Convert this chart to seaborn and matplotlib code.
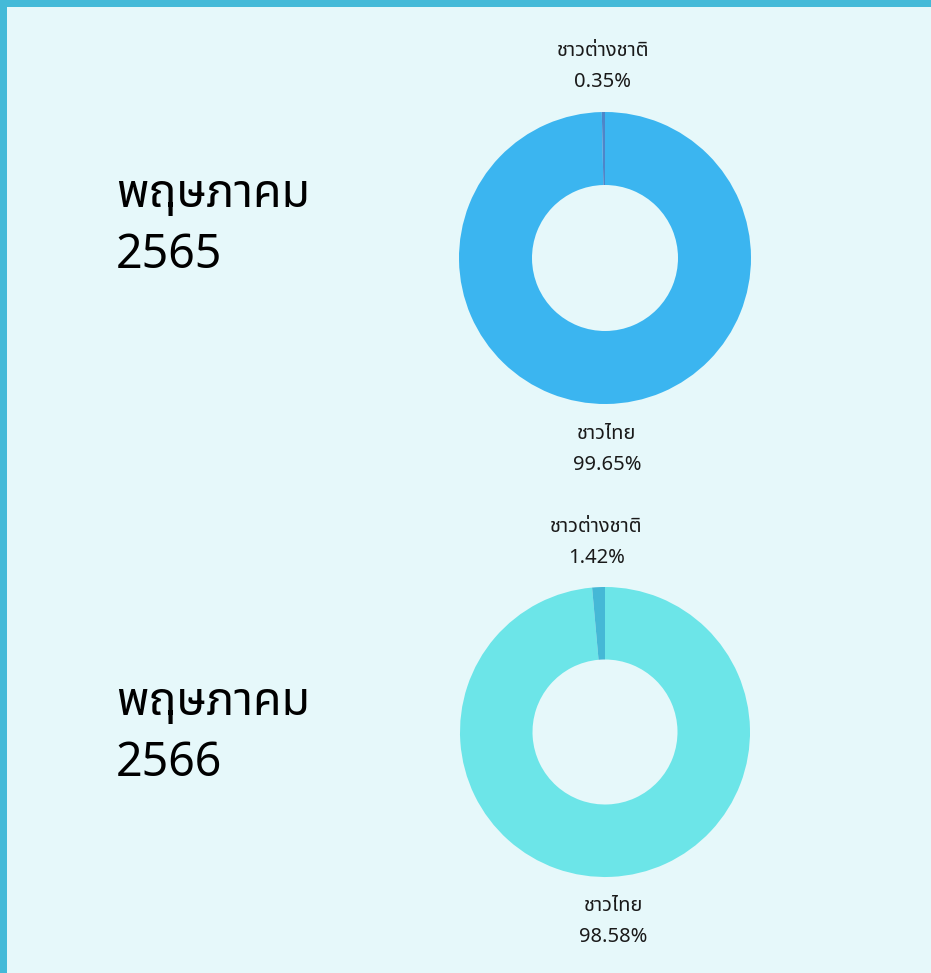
import matplotlib
matplotlib.use("Agg")
import matplotlib.pyplot as plt
from matplotlib.patches import Rectangle
import seaborn as sns

# -------- data --------
months = ["พฤษภาคม\n2565", "พฤษภาคม\n2566"]
groups = ["ชาวไทย", "ชาวต่างชาติ"]
share_2565 = [99.65, 0.35]
share_2566 = [98.58, 1.42]
colors_2565 = ["#3BB5F0", "#4D86C9"]
colors_2566 = ["#6CE5E8", "#45B8D6"]

# -------- style --------
sns.set_style("white")
plt.rcParams["font.family"] = ["Noto Sans Thai", "DejaVu Sans"]

bg = "#E6F8FA"
border = "#44BAD8"

W, H = 931, 973
fig = plt.figure(figsize=(W / 100, H / 100), dpi=100)
fig.patch.set_facecolor(bg)

# frame on top and left edge
fig.add_artist(Rectangle((0, 1 - 7 / H), 1, 7 / H, transform=fig.transFigure,
                         color=border, lw=0))
fig.add_artist(Rectangle((0, 0), 7 / W, 1, transform=fig.transFigure,
                         color=border, lw=0))


def donut(cx, cy, r, values, colors, title, title_y):
    L = 1.5
    size = 2 * L * r
    ax = fig.add_axes([(cx - size / 2) / W, (H - cy - size / 2) / H, size / W, size / H])
    labels = [f"{g}\n{v:.2f}%" for g, v in zip(groups, values)]
    ax.pie(values, labels=labels, colors=colors, startangle=90, counterclock=False,
           radius=1, labeldistance=1.31,
           wedgeprops=dict(width=0.5, linewidth=0),
           textprops=dict(ha="center", va="center", fontsize=14.5, linespacing=1.72,
                          color="#1a1a1a"))
    ax.set_xlim(-L, L)
    ax.set_ylim(-L, L)
    ax.set_aspect("equal")
    ax.axis("off")
    fig.text(116 / W, 1 - title_y / H, title, ha="left", va="center",
             fontsize=33.5, linespacing=1.4, color="black")


donut(605, 258, 146, share_2565, colors_2565, months[0], 225)
donut(605, 732, 145, share_2566, colors_2566, months[1], 733)

fig.savefig("out.png", facecolor=bg)
